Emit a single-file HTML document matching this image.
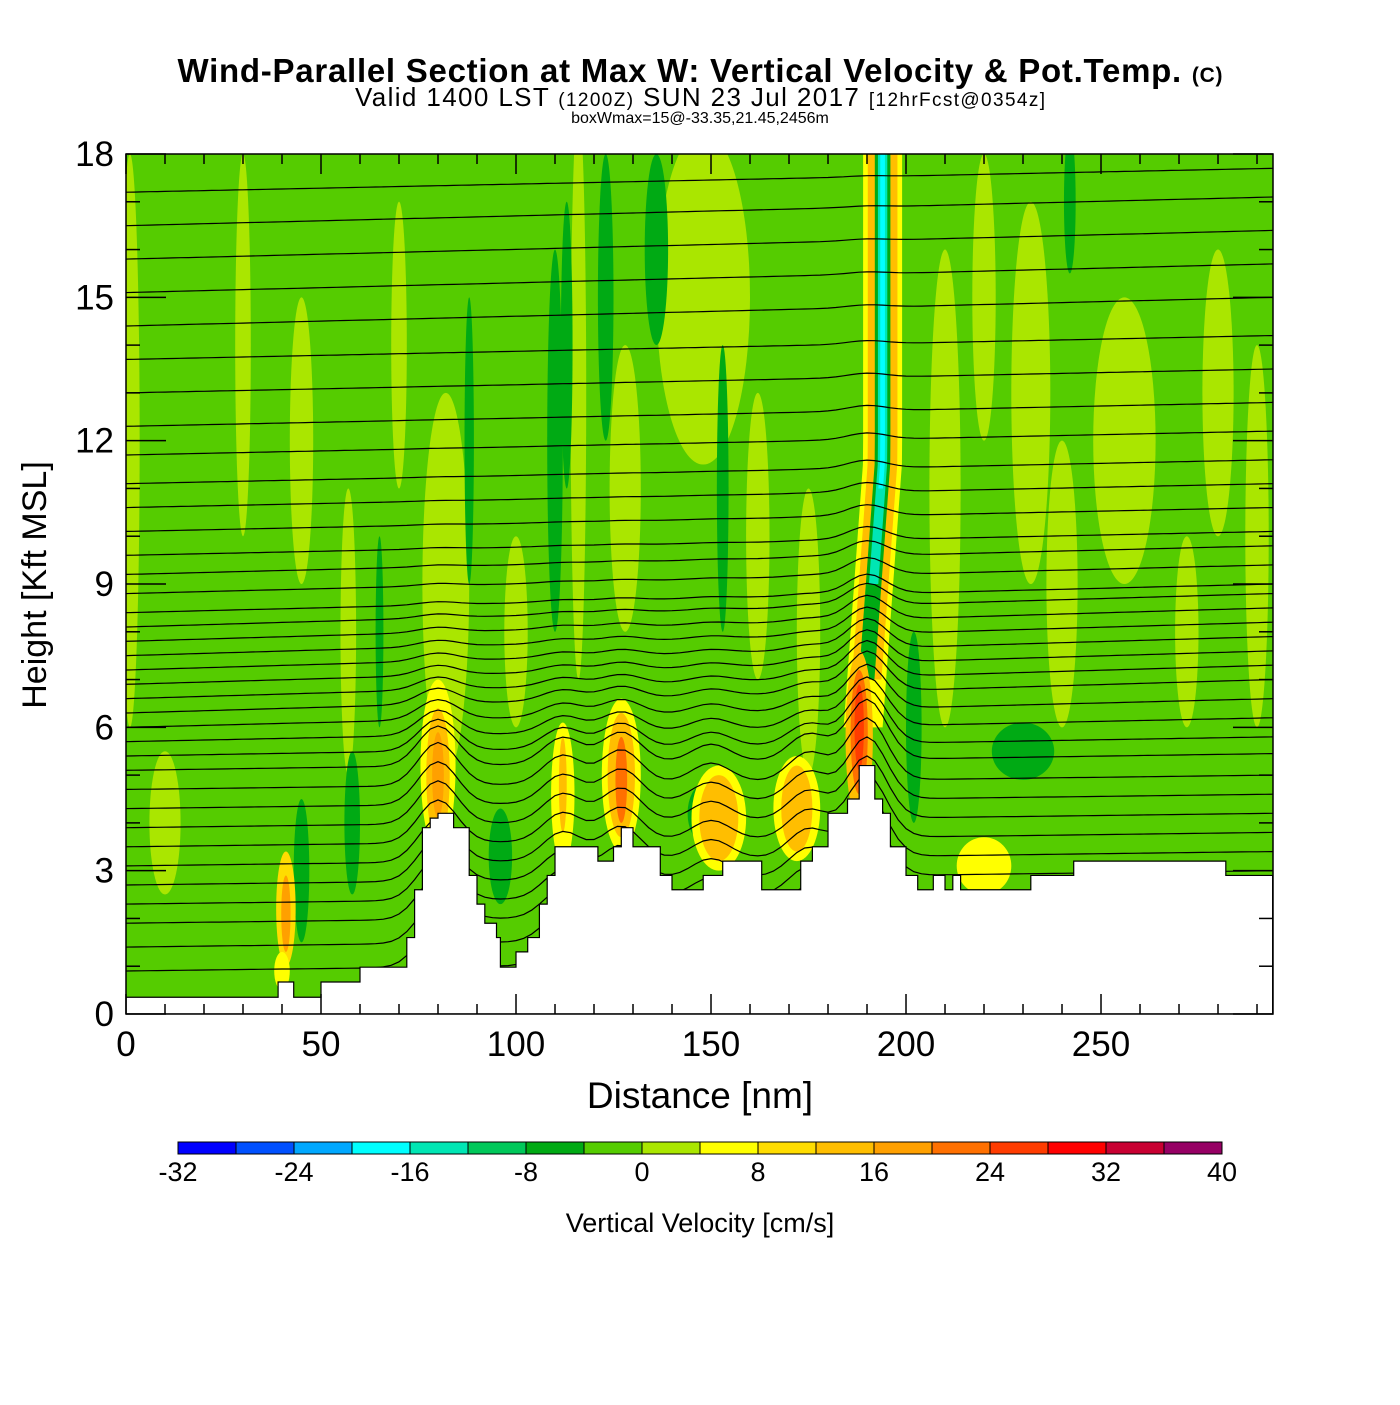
<!DOCTYPE html>
<html><head><meta charset="utf-8"><style>
body{margin:0;background:#fff;}
svg text{font-family:"Liberation Sans",sans-serif;}
</style></head><body>
<svg id="chart" width="1400" height="1400" viewBox="0 0 1400 1400" xmlns="http://www.w3.org/2000/svg">
<rect width="1400" height="1400" fill="#fff"/>
<text x="700" y="82" text-anchor="middle" font-size="33" font-weight="bold" textLength="1045">Wind-Parallel Section at Max W: Vertical Velocity &amp; Pot.Temp. <tspan font-size="21">(C)</tspan></text>
<text x="700" y="106" text-anchor="middle" font-size="26" textLength="690">Valid 1400 LST <tspan font-size="19">(1200Z)</tspan> SUN 23 Jul 2017 <tspan font-size="19">[12hrFcst@0354z]</tspan></text>
<text x="700" y="123" text-anchor="middle" font-size="16">boxWmax=15@-33.35,21.45,2456m</text>
<defs><clipPath id="pc"><rect x="126" y="154" width="1147" height="860"/></clipPath></defs>
<g id="plot" clip-path="url(#pc)"></g>
<g id="axes"></g>
<g id="cbar"></g>
<text x="700" y="1108" text-anchor="middle" font-size="37">Distance [nm]</text>
<text transform="translate(46,585) rotate(-90)" text-anchor="middle" font-size="34">Height [Kft MSL]</text>
<text x="700" y="1232" text-anchor="middle" font-size="27">Vertical Velocity [cm/s]</text>
</svg>
<script>
const NS="http://www.w3.org/2000/svg";
const xTicks=[0,50,100,150,200,250];
const yTicks=[0,3,6,9,12,15,18];
const cbLevels=[-32,-28,-24,-20,-16,-12,-8,-4,0,4,8,12,16,20,24,28,32,36,40];
const cbColors=["#0000ff","#0050ff","#00a8ff","#00ffff","#00e6b4","#00c85a","#00aa14","#55cc00","#aae600","#ffff00","#ffdc00","#ffbe00","#ffa000","#ff7000","#ff3c00","#ff0000","#c80032","#960064"];
const cbLabels=[-32,-24,-16,-8,0,8,16,24,32,40];
// terrain [nm, kft]
const terrainX=[0,39,39,43,43,50,50,60,60,72,72,74,74,76,76,78,78,80,80,84,84,88,88,90,90,92,92,95,95,96,96,100,100,103,103,106,106,108,108,110,110,121,121,125,125,127,127,130,130,137,137,140,140,148,148,153,153,163,163,173,173,176,176,180,180,185,185,188,188,192,192,194,194,196,196,200,200,203,203,207,207,210,210,212,212,214,214,232,232,243,243,282,282,294];
const terrainH=[0.35,0.35,0.67,0.67,0.35,0.35,0.67,0.67,0.98,0.98,1.6,1.6,2.6,2.6,3.9,3.9,4.1,4.1,4.2,4.2,3.9,3.9,2.9,2.9,2.3,2.3,1.9,1.9,1.6,1.6,0.98,0.98,1.3,1.3,1.6,1.6,2.3,2.3,2.9,2.9,3.5,3.5,3.2,3.2,3.5,3.5,3.9,3.9,3.5,3.5,2.9,2.9,2.6,2.6,2.9,2.9,3.2,3.2,2.6,2.6,3.2,3.2,3.5,3.5,4.2,4.2,4.5,4.5,5.2,5.2,4.5,4.5,4.2,4.2,3.5,3.5,2.9,2.9,2.6,2.6,2.9,2.9,2.6,2.6,2.9,2.9,2.6,2.6,2.9,2.9,3.2,3.2,2.9,2.9];
// light green strips [x, ycenter, halfwidth, halfheight]
const lightX=[1,30,57,82,116,148,128,175,210,232,256,272,290,100,70,162,220,10,45,240,280];
const lightY=[12,14,8,9,13,15,11,8,11,13,12,8,10,8,14,10,15,4,12,9,13];
const lightW=[2.5,2,2,6,2,12,4,3,4,5,8,3,3,3,2,3,3,4,3,4,4];
const lightH=[6,4,3,4,6,3.5,3,3,5,4,3,2,4,2,3,3,3,1.5,3,3,3];
// dark green strips
const darkX=[110,123,136,153,242,202,58,65,45,96,148,230,113,88];
const darkY=[12,15,16,11,17,6,4,8,3,3.3,4.2,5.5,14,12];
const darkW=[2,2,3,1.5,1.5,2,2,1,2,3,4,8,1.5,1.2];
const darkH=[4,3,2,3,1.5,2,1.5,2,1.5,1,0.6,0.6,3,3];
// updraft blobs [x, y, halfwidth, halfheight, colorIndex]
const blobX=[80,80,80,112,112,127,127,127,152,152,172,172,188,188,188,41,41,220,40];
const blobY=[5.2,5.0,5.0,4.6,4.8,5.0,5.0,4.9,4.1,4.1,4.3,4.3,5.8,5.9,6.0,2.2,2.1,3.1,0.9];
const blobW=[4.5,3,1.5,3,1,5,3.5,1.5,7,5,6,4,3.5,2.2,1.2,2.5,1.2,7,2];
const blobH=[1.8,1.4,0.9,1.5,1,1.6,1.3,0.9,1.1,0.9,1.1,0.9,1.8,1.3,0.9,1.2,0.8,0.6,0.4];
const blobC=[9,11,12,9,11,9,11,13,9,11,9,11,11,13,14,10,12,9,9];
// potential temperature contours (base height kft at left edge)
const thetaBase=[0.9,1.4,1.9,2.3,2.7,3.1,3.5,3.9,4.3,4.7,5.1,5.4,5.7,6.0,6.3,6.6,6.9,7.2,7.5,7.8,8.1,8.4,8.8,9.2,9.6,10.1,10.6,11.1,11.7,12.3,13.0,13.7,14.4,15.1,15.8,16.5,17.2];
const thetaRise=[0.3,0.3,0.3,0.3,0.3,0.3,0.3,0.3,0.3,0.3,0.35,0.4,0.5,0.6,0.7,0.7,0.7,0.7,0.7,0.7,0.7,0.6,0.6,0.6,0.5,0.5,0.5,0.5,0.5,0.5,0.5,0.5,0.6,0.6,0.6,0.6,0.5];
const peakX=[80,112,127,150,175,190];
const peakA=[0.9,0.6,0.7,0.4,0.6,1.3];

const X0=126,X1=1273,Y0=1014,Y1=154,XMAX=294.1,YMAX=18;
const sx=v=>X0+v/XMAX*(X1-X0);
const sy=v=>Y0-v/YMAX*(Y0-Y1);
const plot=document.getElementById('plot');
function mk(tag,attrs,parent){const e=document.createElementNS(NS,tag);for(const k in attrs)e.setAttribute(k,attrs[k]);parent.appendChild(e);return e;}

let bg=mk('rect',{x:X0,y:Y1,width:X1-X0,height:Y0-Y1,fill:"#55cc00"},plot);


function ell(x,y,w,h,c,name){const e=mk('ellipse',{cx:sx(x),cy:sy(y),rx:w/XMAX*(X1-X0),ry:h/YMAX*(Y0-Y1),fill:c},plot);

}
for(let i=0;i<lightX.length;i++) ell(lightX[i],lightY[i],lightW[i],lightH[i],cbColors[8],'weak-updraft-region');
for(let i=0;i<darkX.length;i++) ell(darkX[i],darkY[i],darkW[i],darkH[i],cbColors[6],'weak-downdraft-region');
function plumeBand(w,c,yb,name){let pts=[];for(let h=yb;h<=18.5;h+=0.5){const cx=189+ (h>6? Math.min((h-6)*0.9,5):0);pts.push([cx-w,h]);}
let pts2=[];for(let h=18.5;h>=yb;h-=0.5){const cx=189+(h>6?Math.min((h-6)*0.9,5):0);pts2.push([cx+w,h]);}
const p=mk('polygon',{points:pts.concat(pts2).map(p=>sx(p[0])+','+sy(p[1])).join(' '),fill:c},plot);

}
plumeBand(5,cbColors[9],6,'plume-yellow');
plumeBand(3.8,cbColors[11],7,'plume-orange');
plumeBand(2,cbColors[6],7,'plume-downdraft');
plumeBand(1.2,cbColors[4],9,'plume-core-teal');
plumeBand(0.6,cbColors[3],11,'plume-core-cyan');
for(let i=0;i<blobX.length;i++) ell(blobX[i],blobY[i],blobW[i],blobH[i],cbColors[blobC[i]],'updraft-cell');
thetaBase.forEach((b,k)=>{let d='';for(let x=0;x<=294;x+=2){let y=b+thetaRise[k]*x/294;
 for(let j=0;j<peakX.length;j++){const dist=(x-peakX[j]);const amp=peakA[j]*Math.exp(-Math.max(0,b-5)/(j==5?3:1.3));y+=amp*Math.exp(-dist*dist/(2*5*5));}
 d+=(x?'L':'M')+sx(x).toFixed(1)+','+sy(y).toFixed(1);}
 const p=mk('path',{d:d,fill:'none',stroke:'#000','stroke-width':1.2},plot);
 
 });
let tp=terrainX.map((x,i)=>sx(x)+','+sy(terrainH[i])).join(' ');
tp+=' '+sx(294)+','+sy(0)+' '+sx(0)+','+sy(0);
const ter=mk('polygon',{points:tp,fill:'#fff',stroke:'#000','stroke-width':1.2},plot);



const ax=document.getElementById('axes');
const fr=mk('rect',{x:X0,y:Y1,width:X1-X0,height:Y0-Y1,fill:'none',stroke:'#000','stroke-width':1.5},ax);


for(let v=0;v<=290;v+=10){const maj=v%50==0,L=maj?20:10;
 mk('line',{x1:sx(v),x2:sx(v),y1:Y0,y2:Y0-L,stroke:'#000','stroke-width':1.5},ax);
 mk('line',{x1:sx(v),x2:sx(v),y1:Y1,y2:Y1+L,stroke:'#000','stroke-width':1.5},ax);}
for(let v=0;v<=18;v+=1){const maj=v%3==0,L=maj?40:14;
 mk('line',{x1:X0,x2:X0+L,y1:sy(v),y2:sy(v),stroke:'#000','stroke-width':1.5},ax);
 mk('line',{x1:X1,x2:X1-L,y1:sy(v),y2:sy(v),stroke:'#000','stroke-width':1.5},ax);}
xTicks.forEach(v=>{const t=mk('text',{x:sx(v),y:1056,'text-anchor':'middle','font-size':35},ax);t.textContent=v;
 
 });
yTicks.forEach(v=>{const t=mk('text',{x:114,y:sy(v)+12,'text-anchor':'end','font-size':35},ax);t.textContent=v;
 
 });
const cb=document.getElementById('cbar');
const cbx0=178,cbx1=1222,n=cbColors.length,cw=(cbx1-cbx0)/n;
cbColors.forEach((c,i)=>{const r=mk('rect',{x:cbx0+i*cw,y:1142,width:cw,height:12,fill:c,stroke:'#000','stroke-width':1},cb);
 
 });
cbLabels.forEach(v=>{const i=cbLevels.indexOf(v);const t=mk('text',{x:cbx0+i*cw,y:1181,'text-anchor':'middle','font-size':27},cb);t.textContent=v;
 
 });
</script>
</body></html>
